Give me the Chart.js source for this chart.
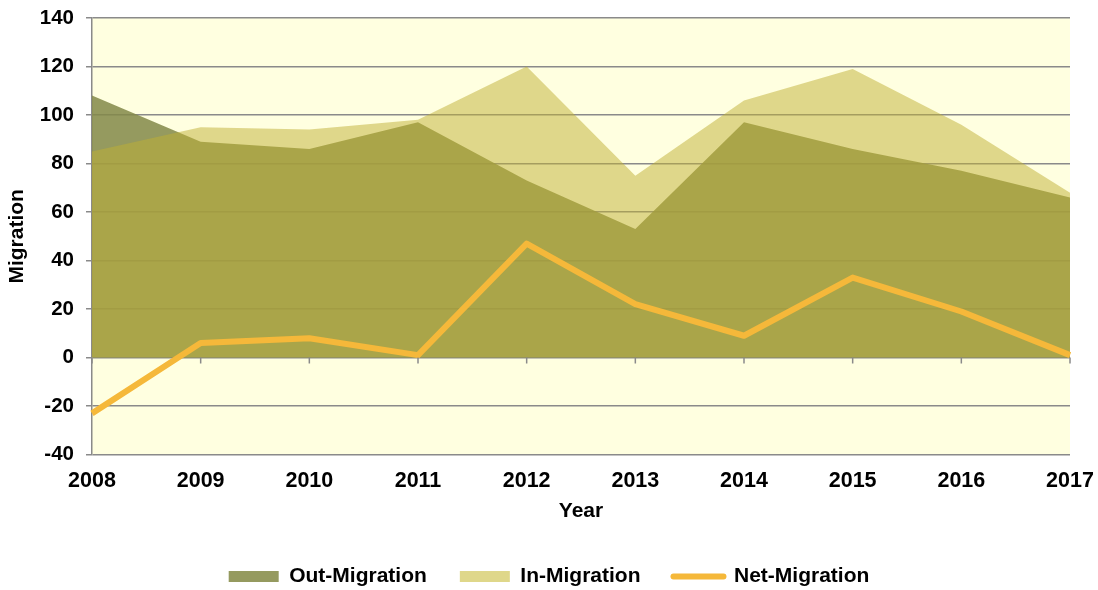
<!DOCTYPE html>
<html>
<head>
<meta charset="utf-8">
<script src="https://cdn.jsdelivr.net/npm/chart.js@4/dist/chart.umd.min.js"></script>
<style>
  html, body { margin: 0; padding: 0; background: #fff; }
  #wrap { position: relative; width: 1098px; height: 590px; }
</style>
</head>
<body>
<div id="wrap"><canvas id="chart"></canvas></div>
<script>
// ── data ──────────────────────────────
const years = ['2008', '2009', '2010', '2011', '2012', '2013', '2014', '2015', '2016', '2017'];
const outMigration = [108, 89, 86, 97, 73, 53, 97, 86, 77, 66];
const inMigration = [85, 95, 94, 98, 120, 75, 106, 119, 96, 68];
const netMigration = [-23, 6, 8, 1, 47, 22, 9, 33, 19, 1];
const yTicks = [-40, -20, 0, 20, 40, 60, 80, 100, 120, 140];

const FAMILY = '"Liberation Sans", Arial, sans-serif';
const font = (size) => ({ family: FAMILY, size, weight: 'bold' });
const GRID = '#8a8a8a';

// plot background + small ticks on the zero line
const plotBg = {
  id: 'plotBg',
  beforeDraw(chart) {
    const { ctx, chartArea: a } = chart;
    ctx.save();
    ctx.fillStyle = '#ffffe0';
    ctx.fillRect(a.left, a.top, a.right - a.left, a.bottom - a.top);
    ctx.restore();
  },
  afterDatasetsDraw(chart) {
    const { ctx, scales: { x, y } } = chart;
    const y0 = y.getPixelForValue(0);
    ctx.save();
    ctx.strokeStyle = GRID;
    ctx.lineWidth = 1.5;
    ctx.beginPath();
    years.forEach((_, i) => {
      const px = x.getPixelForValue(i);
      ctx.moveTo(px, y0);
      ctx.lineTo(px, y0 + 6);
    });
    ctx.stroke();
    ctx.restore();
  },
};

new Chart(document.getElementById('chart'), {
  type: 'line',
  data: {
    labels: years,
    datasets: [
      { label: 'Out-Migration', data: outMigration, order: 2, fill: 'origin',
        backgroundColor: 'rgba(130,136,72,0.85)', borderWidth: 0, pointRadius: 0 },
      { label: 'In-Migration', data: inMigration, order: 1, fill: 'origin',
        backgroundColor: 'rgba(191,175,52,0.5)', borderWidth: 0, pointRadius: 0 },
      { label: 'Net-Migration', data: netMigration, order: 0, fill: false,
        borderColor: '#f5b83a', borderWidth: 6, pointRadius: 0, borderJoinStyle: 'round' },
    ],
  },
  options: {
    responsive: true, maintainAspectRatio: false, animation: false,
    layout: { padding: { left: 0, right: 0, top: 0, bottom: -7 } },
    plugins: {
      tooltip: { enabled: false },
      legend: {
        position: 'bottom',
        labels: {
          font: font(21), color: '#000', padding: 33,
          usePointStyle: true, pointStyleWidth: 50, boxWidth: 50, boxHeight: 11,
          generateLabels: () => [
            { text: 'Out-Migration', pointStyle: 'rect', fillStyle: '#959a5f', strokeStyle: '#959a5f', lineWidth: 0, datasetIndex: 0 },
            { text: 'In-Migration', pointStyle: 'rect', fillStyle: '#dfd78a', strokeStyle: '#dfd78a', lineWidth: 0, datasetIndex: 1 },
            { text: 'Net-Migration', pointStyle: 'line', fillStyle: '#f5b83a', strokeStyle: '#f5b83a', lineWidth: 6, lineCap: 'round', datasetIndex: 2 },
          ],
        },
      },
    },
    scales: {
      x: {
        offset: false,
        afterFit: (s) => { s.height = 78.4; s.paddingLeft = 0; s.paddingRight = 28; },
        grid: { display: false, drawTicks: false },
        border: { display: false },
        ticks: { font: font(21.5), color: '#000', padding: 14, maxRotation: 0, autoSkip: false },
        title: { display: true, text: 'Year', font: font(21), color: '#000', padding: { top: 0, bottom: 8.8 } },
      },
      y: {
        min: -40, max: 140,
        afterFit: (s) => { s.width = 92; s.paddingTop = 18; s.paddingBottom = 0; },
        afterBuildTicks: (s) => { s.ticks = yTicks.map(v => ({ value: v })); },
        grid: { color: GRID, lineWidth: 1.5, tickLength: 6, drawTicks: true },
        border: { color: GRID, width: 1.5 },
        ticks: { font: font(20.5), color: '#000', padding: 12 },
        title: { display: true, text: 'Migration', font: font(21), color: '#000', padding: { top: 5, bottom: 4 } },
      },
    },
  },
  plugins: [plotBg],
});
</script>
</body>
</html>
